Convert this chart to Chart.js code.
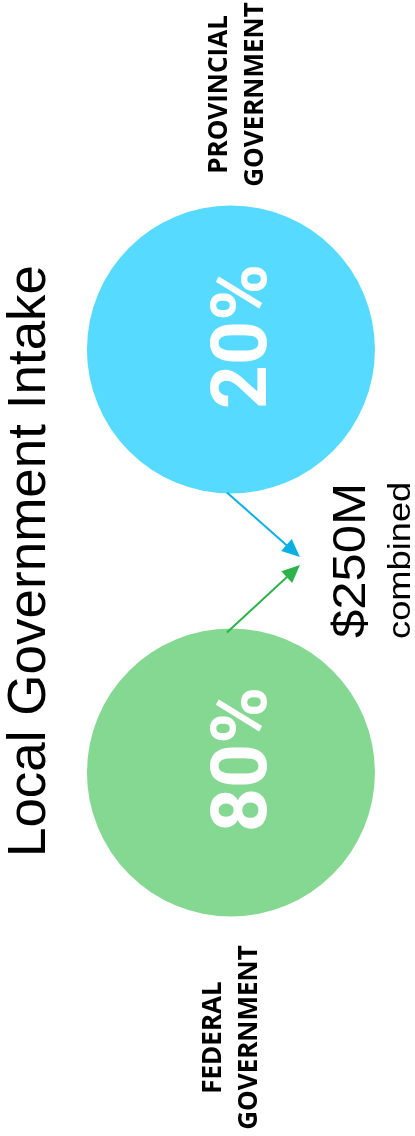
<!DOCTYPE html>
<html>
<head>
<meta charset="utf-8">
<script src="https://cdn.jsdelivr.net/npm/chart.js@4"></script>
<style>
  html, body { margin: 0; padding: 0; background: #fff; }
  #wrap { width: 415px; height: 1136px; position: relative; }
</style>
</head>
<body>
<div id="wrap"><canvas id="grafico"></canvas></div>
<script>
// Datos de la infografía
const titulo = 'Local Government Intake';
const fuentes = [['FEDERAL', 'GOVERNMENT'], ['PROVINCIAL', 'GOVERNMENT']];
const porcentajes = [80, 20];
const total = '$250M';
const notaTotal = 'combined';

const coloresCirculo = ['#84d891', '#57daff'];
const coloresFlecha = ['#2eb24b', '#0bb0e3'];

Chart.defaults.font.family = "'Liberation Sans', Arial, sans-serif";

// Texto girado 90° (se lee de abajo hacia arriba); ancho = estiramiento horizontal
function textoGirado(ctx, texto, x, y, font, color, align, baseline, ancho) {
  ctx.save();
  ctx.translate(x, y);
  ctx.rotate(-Math.PI / 2);
  if (ancho) ctx.scale(ancho, 1);
  ctx.font = font;
  ctx.fillStyle = color;
  ctx.textAlign = align;
  ctx.textBaseline = baseline;
  ctx.fillText(texto, 0, 0);
  ctx.restore();
}

function flecha(ctx, x1, y1, x2, y2, color) {
  const ang = Math.atan2(y2 - y1, x2 - x1);
  const largo = 18, ancho = 8;
  ctx.save();
  ctx.strokeStyle = color;
  ctx.fillStyle = color;
  ctx.lineWidth = 2;
  ctx.beginPath();
  ctx.moveTo(x1, y1);
  ctx.lineTo(x2 - Math.cos(ang) * largo * 0.8, y2 - Math.sin(ang) * largo * 0.8);
  ctx.stroke();
  ctx.beginPath();
  ctx.moveTo(x2, y2);
  ctx.lineTo(x2 - Math.cos(ang) * largo - Math.sin(ang) * ancho, y2 - Math.sin(ang) * largo + Math.cos(ang) * ancho);
  ctx.lineTo(x2 - Math.cos(ang) * largo + Math.sin(ang) * ancho, y2 - Math.sin(ang) * largo - Math.cos(ang) * ancho);
  ctx.closePath();
  ctx.fill();
  ctx.restore();
}

const etiquetas = {
  id: 'etiquetas',
  afterDatasetsDraw(chart) {
    const ctx = chart.ctx;
    const pts = chart.getDatasetMeta(0).data;
    const ym = (pts[0].y + pts[1].y) / 2;
    const desplY = [265, -255];
    const desplX = [-10, -4];

    pts.forEach((pt, i) => {
      // porcentaje dentro del círculo
      textoGirado(ctx, porcentajes[i] + '%', pt.x + 16, pt.y - 13, 'bold 77px Roboto', '#fff', 'center', 'middle');
      // nombre de la fuente
      fuentes[i].forEach((linea, j) => {
        textoGirado(ctx, linea, pt.x + desplX[i] + j * 36, pt.y + desplY[i],
          "bold 26px 'Open Sans'", '#000', 'center', 'alphabetic');
      });
    });

    // flechas hacia el total
    flecha(ctx, pts[0].x - 4, pts[0].y - 140, pts[0].x + 69, ym + 4, coloresFlecha[0]);
    flecha(ctx, pts[1].x - 4, pts[1].y + 143, pts[1].x + 69, ym - 4, coloresFlecha[1]);

    // total combinado
    textoGirado(ctx, total, pts[0].x + 134, ym + 77, "47px 'Liberation Sans'", '#000', 'left', 'alphabetic', 1.08);
    textoGirado(ctx, notaTotal, pts[0].x + 179, ym + 78, "31px 'Liberation Sans'", '#000', 'left', 'alphabetic', 1.17);
  }
};

new Chart(document.getElementById('grafico'), {
  type: 'scatter',
  data: {
    datasets: [{
      data: porcentajes.map((p, i) => ({ x: 0, y: i })),
      pointRadius: 144,
      pointHoverRadius: 144,
      pointBackgroundColor: coloresCirculo,
      pointBorderWidth: 0,
      clip: false
    }]
  },
  options: {
    responsive: true,
    maintainAspectRatio: false,
    animation: false,
    events: [],
    layout: { autoPadding: false, padding: { top: 138, bottom: 152, left: 0, right: 13 } },
    scales: {
      x: { display: false, min: -1, max: 1 },
      y: { display: false, min: -0.5, max: 1.5 }
    },
    plugins: {
      legend: { display: false },
      tooltip: { enabled: false },
      title: {
        display: true,
        position: 'left',
        text: titulo,
        color: '#000',
        padding: 0,
        font: { size: 53, weight: 'normal', lineHeight: 1.13 }
      }
    }
  },
  plugins: [etiquetas]
});
</script>
</body>
</html>
